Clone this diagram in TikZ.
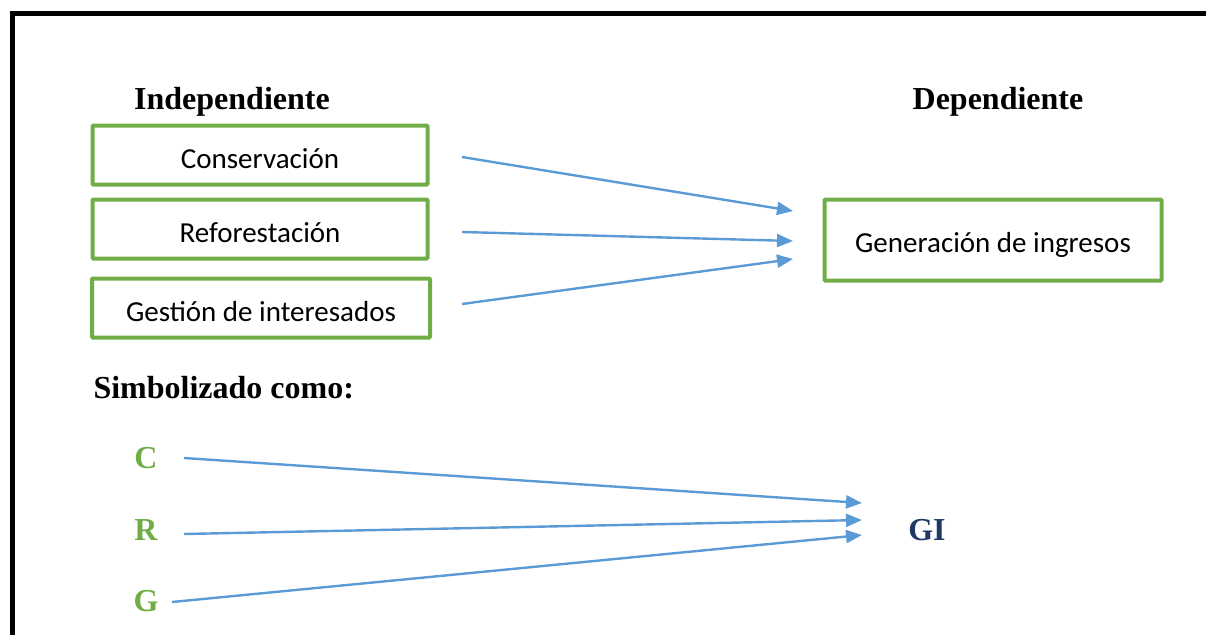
\documentclass[tikz,border=0pt]{standalone}
\usepackage{fontspec}
\setmainfont{Liberation Serif}
\newfontfamily\calib{Carlito}
\usetikzlibrary{arrows.meta}
\definecolor{boxgreen}{HTML}{70AD47}
\definecolor{arrowblue}{HTML}{5B9BD5}
\definecolor{navy}{HTML}{1F3864}
\begin{document}
\begin{tikzpicture}[x=1pt,y=-1pt,
  varbox/.style={draw=boxgreen, line width=4pt, rounded corners=1pt, inner sep=0pt, text height=26pt, text depth=0pt, font=\calib\fontsize{29}{34}\selectfont},
  head/.style={font=\bfseries\fontsize{32}{38}\selectfont},
  sym/.style={font=\bfseries\fontsize{32}{38}\selectfont, text=boxgreen},
  conn/.style={draw=arrowblue, line width=2.4pt, -{Triangle[length=16pt,width=13pt]}}]
\useasboundingbox (0,0) rectangle (1206,634);
% frame
\draw[line width=5pt, line join=miter] (12,640) -- (12,14) -- (1210,14);
% headings
\node[head] (indep) at (232,102) {Independiente};
\node[head] (dep) at (998,102) {Dependiente};
% boxes
\node[varbox, minimum width=335pt, minimum height=59pt] (cons) at (260,155) {Conservación};
\node[varbox, minimum width=335pt, minimum height=59pt] (refo) at (260,229) {Reforestación};
\node[varbox, minimum width=338pt, minimum height=59pt] (gest) at (261,308) {Gestión de interesados};
\node[varbox, minimum width=337pt, minimum height=81pt, text height=24pt] (gen) at (993,240) {Generación de ingresos};
% upper connectors
\coordinate (c1) at (462,157); \coordinate (t1) at (793,211);
\coordinate (c2) at (462,232); \coordinate (t2) at (793,241);
\coordinate (c3) at (462,304); \coordinate (t3) at (793,259);
\draw[conn] (c1) -- (t1);
\draw[conn] (c2) -- (t2);
\draw[conn] (c3) -- (t3);
% symbolized
\node[head, anchor=west] (simb) at (90,388) {Simbolizado como:};
\node[sym] (C) at (146,458) {C};
\node[sym] (R) at (146,530) {R};
\node[sym] (G) at (146,601) {G};
\node[head, text=navy] (GI) at (927,530) {GI};
\coordinate (s1) at (184,458); \coordinate (e1) at (862,503);
\coordinate (s2) at (184,534); \coordinate (e2) at (862,520);
\coordinate (s3) at (172,602); \coordinate (e3) at (862,535);
\draw[conn] (s1) -- (e1);
\draw[conn] (s2) -- (e2);
\draw[conn] (s3) -- (e3);
\end{tikzpicture}
\end{document}
